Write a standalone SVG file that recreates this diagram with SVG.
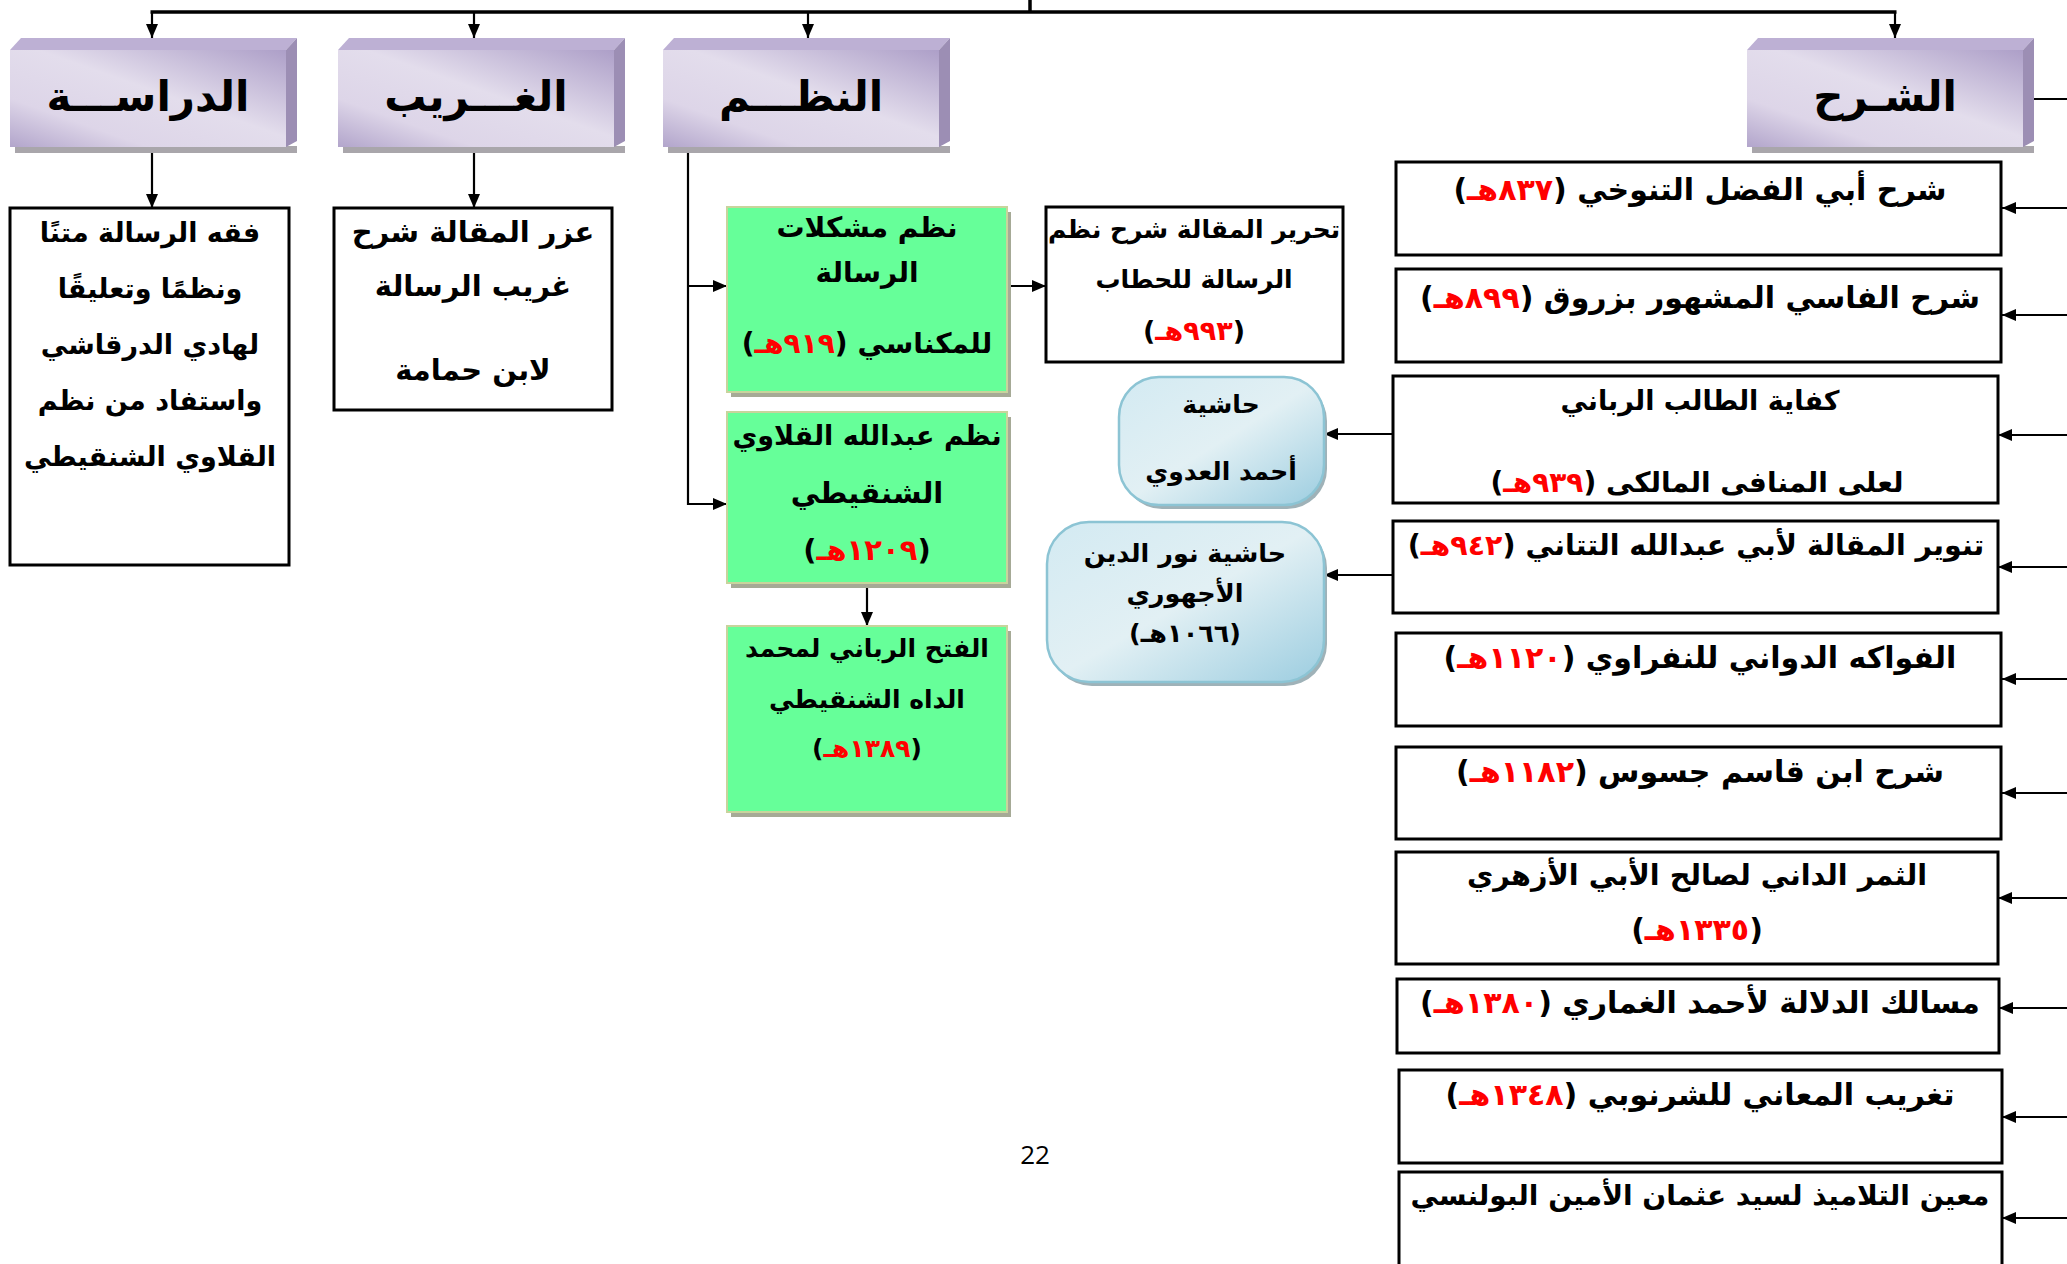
<svg xmlns="http://www.w3.org/2000/svg" width="2067" height="1264" viewBox="0 0 2067 1264">
<style>
.t{font-family:'DejaVu Sans',sans-serif;font-weight:bold;fill:#000;text-anchor:middle;direction:rtl}
.h{font-size:42px}
.r{fill:#ff0000}
.box{fill:#fff;stroke:#000;stroke-width:3}
.grn{fill:#66ff99;stroke:#c8d49c;stroke-width:2}
.gsh{fill:#a6aa96}
.blu{fill:url(#bg);stroke:#8cc4d4;stroke-width:2.5}
.bsh{fill:#9fb2b8}
.ln{fill:none;stroke:#000;stroke-width:2.2}
.top{fill:#bdb0d4}
.side{fill:#9c8eb4}
.hsh{fill:#a9a6ab}
.face{fill:url(#pg)}
</style>
<defs>
<linearGradient id="pg" x1="1" y1="0" x2="0" y2="1">
<stop offset="0" stop-color="#ad9fc8"/>
<stop offset="0.45" stop-color="#e3ddec"/>
<stop offset="0.75" stop-color="#ddd5e8"/>
<stop offset="1" stop-color="#b2a5cb"/>
</linearGradient>
<linearGradient id="bg" x1="0" y1="0" x2="1" y2="1">
<stop offset="0" stop-color="#d3eaf2"/>
<stop offset="0.5" stop-color="#e2f0f4"/>
<stop offset="1" stop-color="#9ccde0"/>
</linearGradient>
<marker id="ah" markerUnits="userSpaceOnUse" markerWidth="14" markerHeight="12" refX="14" refY="6" orient="auto">
<path d="M0,0 L14,6 L0,12 z" fill="#000"/>
</marker>
</defs>

<g id="connectors">
<line x1="1030" y1="0" x2="1030" y2="12" class="ln" style="stroke-width:3.5"/>
<line x1="150.5" y1="12" x2="1896.5" y2="12" class="ln" style="stroke-width:3.5"/>
<line x1="152" y1="12" x2="152" y2="38" class="ln" marker-end="url(#ah)"/>
<line x1="474" y1="12" x2="474" y2="38" class="ln" marker-end="url(#ah)"/>
<line x1="808" y1="12" x2="808" y2="38" class="ln" marker-end="url(#ah)"/>
<line x1="1895" y1="12" x2="1895" y2="38" class="ln" marker-end="url(#ah)"/>
<line x1="2034" y1="99" x2="2067" y2="99" class="ln"/>
<line x1="152" y1="153" x2="152" y2="208" class="ln" marker-end="url(#ah)"/>
<line x1="474" y1="153" x2="474" y2="208" class="ln" marker-end="url(#ah)"/>
<polyline points="688,152 688,504 727,504" class="ln" marker-end="url(#ah)"/>
<line x1="688" y1="286" x2="727" y2="286" class="ln" marker-end="url(#ah)"/>
<line x1="1007" y1="286" x2="1046" y2="286" class="ln" marker-end="url(#ah)"/>
<line x1="867" y1="585" x2="867" y2="626" class="ln" marker-end="url(#ah)"/>
<line x1="1393" y1="434" x2="1324" y2="434" class="ln" marker-end="url(#ah)"/>
<line x1="1393" y1="575" x2="1324" y2="575" class="ln" marker-end="url(#ah)"/>
<line x1="2067" y1="208" x2="2002" y2="208" class="ln" marker-end="url(#ah)"/>
<line x1="2067" y1="315" x2="2002" y2="315" class="ln" marker-end="url(#ah)"/>
<line x1="2067" y1="435" x2="1998" y2="435" class="ln" marker-end="url(#ah)"/>
<line x1="2067" y1="567" x2="1998" y2="567" class="ln" marker-end="url(#ah)"/>
<line x1="2067" y1="679" x2="2002" y2="679" class="ln" marker-end="url(#ah)"/>
<line x1="2067" y1="793" x2="2002" y2="793" class="ln" marker-end="url(#ah)"/>
<line x1="2067" y1="898" x2="1998" y2="898" class="ln" marker-end="url(#ah)"/>
<line x1="2067" y1="1008" x2="1999" y2="1008" class="ln" marker-end="url(#ah)"/>
<line x1="2067" y1="1117" x2="2002" y2="1117" class="ln" marker-end="url(#ah)"/>
<line x1="2067" y1="1218" x2="2002" y2="1218" class="ln" marker-end="url(#ah)"/>
</g>

<g id="h-dirasa">
<rect x="15" y="146" width="282" height="7" class="hsh"/>
<rect x="10" y="50" width="276" height="97" class="face"/>
<polygon points="10,50 21,38 297,38 286,50" class="top"/>
<polygon points="286,50 297,38 297,141 286,147" class="side"/>
<text x="148" y="111" class="t h">الدراســـة</text>
</g>
<g id="h-gharib">
<rect x="343" y="146" width="282" height="7" class="hsh"/>
<rect x="338" y="50" width="276" height="97" class="face"/>
<polygon points="338,50 349,38 625,38 614,50" class="top"/>
<polygon points="614,50 625,38 625,141 614,147" class="side"/>
<text x="476" y="111" class="t h">الغـــريب</text>
</g>
<g id="h-nazm">
<rect x="668" y="146" width="282" height="7" class="hsh"/>
<rect x="663" y="50" width="276" height="97" class="face"/>
<polygon points="663,50 674,38 950,38 939,50" class="top"/>
<polygon points="939,50 950,38 950,141 939,147" class="side"/>
<text x="801" y="111" class="t h">النظـــم</text>
</g>
<g id="h-sharh">
<rect x="1752" y="146" width="282" height="7" class="hsh"/>
<rect x="1747" y="50" width="276" height="97" class="face"/>
<polygon points="1747,50 1758,38 2034,38 2023,50" class="top"/>
<polygon points="2023,50 2034,38 2034,141 2023,147" class="side"/>
<text x="1885" y="111" class="t h">الشـرح</text>
</g>

<g id="n-fiqh">
<rect x="10" y="208" width="279" height="357" class="box"/>
<text class="t" font-size="27"><tspan x="150" y="242">فقه الرسالة متنًا</tspan><tspan x="150" y="298">ونظمًا وتعليقًا</tspan><tspan x="150" y="354">لهادي الدرقاشي</tspan><tspan x="150" y="410">واستفاد من نظم</tspan><tspan x="150" y="466">القلاوي الشنقيطي</tspan></text>
</g>
<g id="n-azr">
<rect x="334" y="208" width="278" height="202" class="box"/>
<text class="t" font-size="29"><tspan x="473" y="242">عزر المقالة شرح</tspan><tspan x="473" y="296">غريب الرسالة</tspan><tspan x="473" y="380">لابن حمامة</tspan></text>
</g>

<g id="n-mushkilat">
<rect x="731" y="212" width="280" height="185" class="gsh"/>
<rect x="727" y="207" width="280" height="185" class="grn"/>
<text class="t" font-size="28"><tspan x="867" y="237">نظم مشكلات</tspan><tspan x="867" y="282">الرسالة</tspan><tspan x="867" y="353">للمكناسي (<tspan class="r">٩١٩هـ</tspan>)</tspan></text>
</g>
<g id="n-qallawi">
<rect x="731" y="417" width="280" height="171" class="gsh"/>
<rect x="727" y="412" width="280" height="171" class="grn"/>
<text class="t" font-size="27"><tspan x="867" y="445">نظم عبدالله القلاوي</tspan><tspan x="867" y="503" font-size="29">الشنقيطي</tspan><tspan x="867" y="560" font-size="29">(<tspan class="r">١٢٠٩هـ</tspan>)</tspan></text>
</g>
<g id="n-fath">
<rect x="731" y="631" width="280" height="186" class="gsh"/>
<rect x="727" y="626" width="280" height="186" class="grn"/>
<text class="t" font-size="25"><tspan x="867" y="657">الفتح الرباني لمحمد</tspan><tspan x="867" y="708">الداه الشنقيطي</tspan><tspan x="867" y="757">(<tspan class="r">١٣٨٩هـ</tspan>)</tspan></text>
</g>
<g id="n-tahrir">
<rect x="1046" y="207" width="297" height="155" class="box"/>
<text class="t" font-size="25"><tspan x="1194" y="238">تحرير المقالة شرح نظم</tspan><tspan x="1194" y="288">الرسالة للحطاب</tspan><tspan x="1194" y="340" font-size="27">(<tspan class="r">٩٩٣هـ</tspan>)</tspan></text>
</g>

<g id="n-adawi">
<rect x="1122" y="381" width="205" height="128" rx="40" class="bsh"/>
<rect x="1119" y="377" width="205" height="128" rx="40" class="blu"/>
<text class="t" font-size="25"><tspan x="1221" y="413">حاشية</tspan><tspan x="1221" y="480">أحمد العدوي</tspan></text>
</g>
<g id="n-ajhuri">
<rect x="1050" y="526" width="277" height="160" rx="42" class="bsh"/>
<rect x="1047" y="522" width="277" height="160" rx="42" class="blu"/>
<text class="t" font-size="25.5"><tspan x="1185" y="562">حاشية نور الدين</tspan><tspan x="1185" y="602">الأجهوري</tspan><tspan x="1185" y="642">(١٠٦٦هـ)</tspan></text>
</g>

<g id="n-tanukhi">
<rect x="1396" y="162" width="605" height="93" class="box"/>
<text x="1700" y="200" class="t" font-size="30">شرح أبي الفضل التنوخي (<tspan class="r">٨٣٧هـ</tspan>)</text>
</g>
<g id="n-zarruq">
<rect x="1396" y="269" width="605" height="93" class="box"/>
<text x="1700" y="308" class="t" font-size="30">شرح الفاسي المشهور بزروق (<tspan class="r">٨٩٩هـ</tspan>)</text>
</g>
<g id="n-kifaya">
<rect x="1393" y="376" width="605" height="127" class="box"/>
<text class="t" font-size="28"><tspan x="1700" y="410" font-size="27">كفاية الطالب الرباني</tspan><tspan x="1697" y="492">لعلى المنافى المالكى (<tspan class="r">٩٣٩هـ</tspan>)</tspan></text>
</g>
<g id="n-tanwir">
<rect x="1393" y="521" width="605" height="92" class="box"/>
<text x="1696" y="555" class="t" font-size="28.5">تنوير المقالة لأبي عبدالله التتاني (<tspan class="r">٩٤٢هـ</tspan>)</text>
</g>
<g id="n-fawakih">
<rect x="1396" y="633" width="605" height="93" class="box"/>
<text x="1700" y="668" class="t" font-size="30">الفواكه الدواني للنفراوي (<tspan class="r">١١٢٠هـ</tspan>)</text>
</g>
<g id="n-jasus">
<rect x="1396" y="747" width="605" height="92" class="box"/>
<text x="1700" y="782" class="t" font-size="30">شرح ابن قاسم جسوس (<tspan class="r">١١٨٢هـ</tspan>)</text>
</g>
<g id="n-thamar">
<rect x="1396" y="852" width="602" height="112" class="box"/>
<text class="t" font-size="28.7"><tspan x="1697" y="885">الثمر الداني لصالح الأبي الأزهري</tspan><tspan x="1697" y="940" font-size="30">(<tspan class="r">١٣٣٥هـ</tspan>)</tspan></text>
</g>
<g id="n-masalik">
<rect x="1397" y="979" width="602" height="74" class="box"/>
<text x="1700" y="1013" class="t" font-size="30">مسالك الدلالة لأحمد الغماري (<tspan class="r">١٣٨٠هـ</tspan>)</text>
</g>
<g id="n-taghrib">
<rect x="1399" y="1070" width="603" height="93" class="box"/>
<text x="1700" y="1105" class="t" font-size="30">تغريب المعاني للشرنوبي (<tspan class="r">١٣٤٨هـ</tspan>)</text>
</g>
<g id="n-muin">
<rect x="1399" y="1172" width="603" height="100" class="box"/>
<text x="1700" y="1205" class="t" font-size="28">معين التلاميذ لسيد عثمان الأمين البولنسي</text>
</g>

<text x="1035" y="1164" font-family="'Open Sans',sans-serif" font-size="26" text-anchor="middle" fill="#000">22</text>
</svg>
